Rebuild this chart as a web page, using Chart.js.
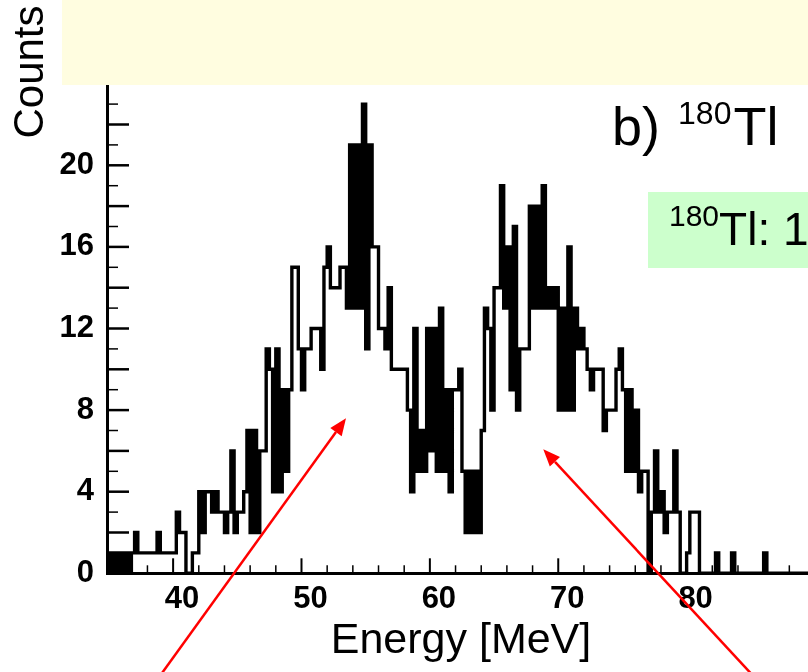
<!DOCTYPE html>
<html><head><meta charset="utf-8">
<script src="https://cdn.jsdelivr.net/npm/chart.js@4.4.1/dist/chart.umd.min.js"></script>
<style>
html,body{margin:0;padding:0;width:808px;height:672px;overflow:hidden;background:#fff;}
#wrap{position:absolute;left:0;top:0;width:830px;height:672px;}
.t{position:absolute;font-family:'Liberation Sans',Arial,sans-serif;color:#000;white-space:nowrap;}
#ycap{left:-71px;top:47px;width:200px;height:50px;line-height:50px;font-size:42px;text-align:center;transform:rotate(-90deg);}
#yellow{position:absolute;left:62px;top:0;width:746px;height:85px;background:#FFFDE0;}
#green{position:absolute;left:648px;top:192px;width:160px;height:76px;background:#CCFFCC;}
#panel{left:612px;top:99px;font-size:54px;line-height:54px;}
#panel .sup{font-size:32px;top:-21px;margin-left:3px;margin-right:2px;}
#iso{left:669px;top:206px;font-size:46px;line-height:46px;}
.sup{font-size:30px;position:relative;top:-19px;}
#arrows{position:absolute;left:0;top:0;}
</style></head><body>
<div id="wrap"><canvas id="c" width="830" height="672"></canvas></div>
<div class="t" id="ycap">Counts</div>
<div id="yellow"></div>
<div id="green"></div>
<div class="t" id="panel">b) <span class="sup">180</span>Tl</div>
<div class="t" id="iso"><span class="sup">180</span>Tl: 1</div>
<svg id="arrows" width="808" height="672">
  <line x1="157" y1="680" x2="336" y2="432" stroke="#FF0000" stroke-width="2.5"/>
  <polygon points="346,418.3 341.7,436.2 330.3,427.9" fill="#FF0000"/>
  <line x1="757" y1="680" x2="555" y2="461.8" stroke="#FF0000" stroke-width="2.5"/>
  <polygon points="543.3,449.3 560,457 549.8,466.5" fill="#FF0000"/>
</svg>
<script>
// Histogram: counts per 0.25 MeV bin, first bin starts at 34.75 MeV
const binStart = 34.75;
const binWidth = 0.25;
const counts = [
  1,                 // 34.75
  0, 1, 0, 1,        // 35
  0, 1, 0, 1,        // 36
  2, 1, 1, 1,        // 37
  1, 1, 1, 2,        // 38
  1, 1, 1, 1,        // 39
  1, 3, 2, 2,        // 40
  0, 0, 1, 1,        // 41
  4, 2, 4, 4,        // 42
  3, 4, 3, 3,        // 43
  2, 3, 6, 2,        // 44
  3, 3, 4, 7,        // 45
  2, 7, 2, 6,        // 46
  6, 11, 10, 4,      // 47
  11, 4, 9, 5,       // 48
  9, 15, 15, 11,     // 49
  9, 11, 11, 12,     // 50
  12, 12, 10, 15,    // 51
  16, 14, 14, 14,    // 52
  15, 15, 13, 21,    // 53
  13, 21, 13, 23,    // 54
  11, 21, 16, 16,    // 55
  12, 12, 11, 14,    // 56
  10, 10, 10, 10,    // 57
  10, 8, 4, 12,      // 58
  5, 7, 5, 12,       // 59
  6, 12, 5, 13,      // 60
  5, 9, 4, 9,        // 61
  9, 10, 5, 2,       // 62
  5, 2, 5, 2,        // 63
  7, 13, 12, 8,      // 64
  14, 14, 19, 13,    // 65
  16, 9, 17, 8,      // 66
  11, 11, 11, 18,    // 67
  13, 18, 13, 19,    // 68
  13, 14, 13, 14,    // 69
  8, 13, 8, 16,      // 70
  8, 13, 11, 12,     // 71
  11, 10, 9, 10,     // 72
  10, 10, 7, 8,      // 73
  8, 8, 10, 11,      // 74
  9, 5, 9, 5,        // 75
  8, 4, 5, 5,        // 76
  0, 3, 6, 3,        // 77
  4, 2, 3, 3,        // 78
  6, 3, 0, 0,        // 79
  1, 3, 3, 3,        // 80
  0, 0, 0, 0,        // 81
  0, 1, 0, 0,        // 82
  0, 0, 1, 0,        // 83
  0, 0, 0, 0,        // 84
  0, 0, 0, 0,        // 85
  1, 0, 0, 0,        // 86
  0, 0, 0, 0,        // 87
  0, 0, 0, 0,        // 88
  0, 0, 0, 0         // 89
];
const xLabelValues = [40, 50, 60, 70, 80];
const yLabelValues = [0, 4, 8, 12, 16, 20];
const xMinorTicks = [36,38,40,42,44,46,48,50,52,54,56,58,60,62,64,66,68,70,72,74,76,78,80,82,84,86,88];
const xMajorTicks = [40,50,60,70,80];
const yMinorTicks = [1,3,5,7,9,11,13,15,17,19,21,23];
const yMajorTicks = [2,4,6,8,10,12,14,16,18,20,22];

const points = counts.map((c, i) => ({x: binStart + i * binWidth, y: c}));
points.push({x: binStart + counts.length * binWidth, y: 0});

const FONT = "'Liberation Sans', Arial, sans-serif";

const insideTicks = {
  id: 'insideTicks',
  beforeDatasetsDraw(chart) {
    const {ctx, chartArea: a, scales: {x, y}} = chart;
    ctx.save();
    ctx.strokeStyle = '#000';
    const vline = (px, len, w) => { ctx.lineWidth = w; ctx.beginPath(); ctx.moveTo(px, a.bottom); ctx.lineTo(px, a.bottom - len); ctx.stroke(); };
    const hline = (py, len, w) => { ctx.lineWidth = w; ctx.beginPath(); ctx.moveTo(a.left, py); ctx.lineTo(a.left + len, py); ctx.stroke(); };
    xMinorTicks.forEach(v => { if (!xMajorTicks.includes(v)) vline(x.getPixelForValue(v), 8, 1.5); });
    xMajorTicks.forEach(v => vline(x.getPixelForValue(v), 15, 2));
    yMinorTicks.forEach(v => hline(y.getPixelForValue(v), 11, 1.5));
    yMajorTicks.forEach(v => hline(y.getPixelForValue(v), 22, 2.5));
    ctx.restore();
  }
};

new Chart(document.getElementById('c'), {
  type: 'line',
  data: {
    datasets: [{
      data: points,
      stepped: true,
      borderColor: '#000',
      borderWidth: 3.4,
      pointRadius: 0,
      fill: false,
      tension: 0
    }]
  },
  options: {
    responsive: false,
    animation: false,
    devicePixelRatio: 1,
    layout: {padding: {top: 83.7, right: 15, left: 0, bottom: 0}},
    plugins: {legend: {display: false}, tooltip: {enabled: false}},
    scales: {
      x: {
        type: 'linear', min: 34.85, max: 90,
        afterFit: s => { s.height = 98.7; },
        grid: {display: false},
        border: {display: true, width: 3, color: '#000'},
        ticks: {
          stepSize: 10, includeBounds: false, autoSkip: false, maxRotation: 0, padding: 0, labelOffset: 9,
          color: '#000', font: {family: FONT, size: 31, weight: 'bold'},
          callback: v => xLabelValues.includes(v) ? String(v) : ''
        },
        title: {display: true, text: 'Energy [MeV]', color: '#000', font: {family: FONT, size: 43}, padding: {top: 0, bottom: 5}}
      },
      y: {
        type: 'linear', min: 0, max: 24,
        afterFit: s => { s.width = 107; },
        grid: {display: false},
        border: {display: true, width: 3, color: '#000'},
        ticks: {
          stepSize: 4, includeBounds: false, autoSkip: false, padding: 5,
          color: '#000', font: {family: FONT, size: 31, weight: 'bold'},
          callback: v => yLabelValues.includes(v) ? String(v) : ''
        }
      }
    }
  },
  plugins: [insideTicks]
});
</script>
</body></html>
